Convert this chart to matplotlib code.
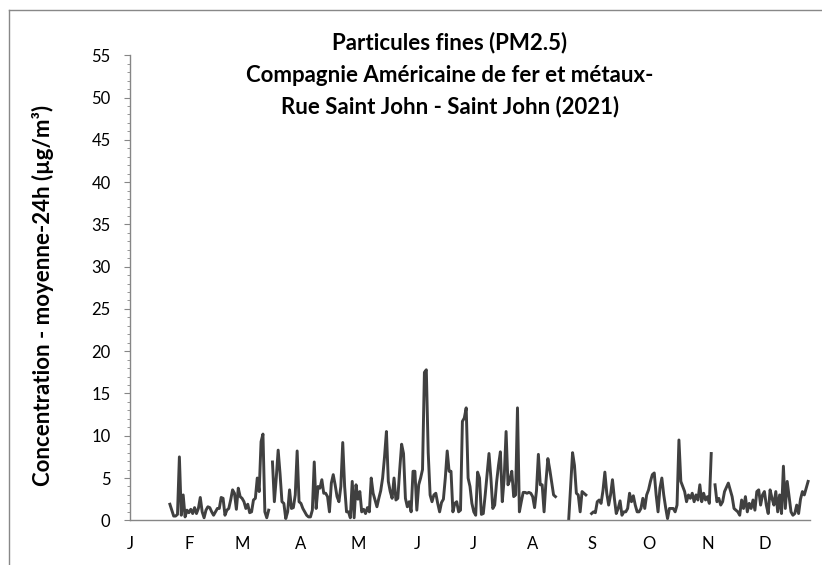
import numpy as np
import pandas as pd
import matplotlib
matplotlib.use("Agg")
import matplotlib.pyplot as plt
from matplotlib.lines import Line2D
from matplotlib.ticker import MultipleLocator

# ----------------------------
# Daily PM2.5 (24h mean), 2021 - nan = no data
# ----------------------------
nan = np.nan
start_date = "2021-01-22"

jan = [1.9, 1.2, 0.5, 0.5, 0.7, 7.5, 0.6, 3.0, 0.4, 1.2]
feb = [0.9, 1.3, 0.8, 1.5, 0.8, 1.4, 2.7, 1.0, 0.3, 1.2, 1.6, 1.5, 1.0, 0.6,
       1.0, 1.4, 1.4, 2.7, 2.6, 0.6, 1.2, 1.4, 2.4, 3.6, 3.2, 1.3, 3.8, 2.8]
mar = [2.6, 2.2, 1.4, 1.9, 0.9, 1.0, 2.4, 2.6, 5.0, 3.4, 9.3, 10.2, 1.0, 0.3,
       1.2, nan, 6.9, 2.2, 5.0, 8.3, 5.5, 2.2, 2.0, 0.2, 1.0, 3.6, 1.4, 1.5,
       3.0, 8.2, 2.2]
apr = [2.0, 1.4, 1.0, 0.6, 0.4, 0.4, 1.2, 6.9, 1.4, 4.0, 3.8, 4.8, 3.2, 3.2,
       2.8, 1.0, 4.4, 5.4, 4.2, 2.8, 2.2, 4.0, 9.2, 4.0, 1.0, 1.0, 0.3, 4.6,
       0.3, 4.2]
may = [2.5, 3.4, 1.0, 1.3, 0.8, 1.5, 1.0, 5.0, 3.2, 2.4, 1.6, 2.6, 3.5, 5.0,
       7.5, 10.5, 4.6, 3.4, 2.6, 5.0, 2.4, 2.6, 6.0, 9.0, 7.9, 2.6, 1.6, 2.2,
       1.0, 5.8, 5.8]
jun = [1.2, 4.2, 5.0, 6.0, 17.5, 17.8, 8.0, 3.0, 2.2, 3.0, 3.2, 2.0, 1.0, 2.1,
       2.5, 5.0, 8.2, 5.8, 5.8, 1.0, 2.0, 2.2, 1.0, 1.2, 11.7, 12.1, 13.3, 5.0,
       4.0, 2.0]
jul = [1.0, 0.6, 5.7, 5.0, 0.7, 0.8, 3.0, 5.5, 7.9, 5.0, 1.4, 1.8, 4.5, 6.5,
       8.1, 2.2, 5.0, 10.5, 4.2, 4.8, 5.8, 2.8, 3.0, 13.3, 1.0, 2.2, 3.3, 3.3,
       3.2, 3.3, 3.2]
aug = [2.8, 1.5, 3.5, 7.8, 4.2, 4.2, 1.0, 4.6, 7.3, 6.0, 4.5, 3.0, 2.8, nan,
       nan, nan, nan, nan, nan, 0.2, 4.0, 8.0, 6.5, 3.2, 3.0, 1.0, 3.4, 3.2,
       3.0, nan, nan]
sep = [0.8, 1.0, 0.9, 2.2, 2.4, 2.0, 3.5, 5.7, 3.2, 1.8, 3.0, 4.8, 2.6, 0.8,
       1.4, 2.3, 0.6, 1.0, 1.0, 1.4, 3.2, 2.2, 2.9, 1.8, 1.0, 1.0, 1.4, 2.6,
       1.4, 3.0]
oct_ = [3.6, 4.6, 5.4, 5.6, 3.0, 1.0, 3.8, 5.0, 3.0, 1.5, 0.2, 1.4, 1.4, 1.4,
        1.0, 1.8, 9.5, 4.6, 4.0, 3.4, 2.2, 3.0, 2.6, 3.2, 2.2, 3.0, 2.4, 4.2,
        2.2, 3.2, 2.4]
nov = [2.8, 2.0, 7.9, nan, 4.2, 2.2, 2.6, 1.8, 2.2, 3.4, 3.9, 4.4, 3.6, 2.8,
       1.4, 1.2, 1.0, 0.6, 2.4, 1.4, 2.8, 1.0, 2.0, 1.4, 2.4, 1.2, 3.4, 3.6,
       1.8, 3.0]
dec = [3.4, 1.8, 0.8, 3.6, 2.6, 1.8, 3.4, 1.0, 3.0, 0.8, 6.4, 1.4, 4.6, 2.8,
       1.0, 0.6, 0.8, 1.8, 0.8, 2.5, 3.4, 3.0, 3.8, 4.6]

month_letters = ["J", "F", "M", "A", "M", "J", "J", "A", "S", "O", "N", "D"]

title_lines = ["Particules fines (PM2.5)",
               "Compagnie Américaine de fer et métaux-",
               "Rue Saint John - Saint John (2021)"]
y_label = "Concentration - moyenne-24h (µg/m³)"

# ----------------------------
# Build series
# ----------------------------
values = jan + feb + mar + apr + may + jun + jul + aug + sep + oct_ + nov + dec
dates = pd.date_range(start_date, periods=len(values), freq="D")
month_starts = pd.date_range("2021-01-01", periods=12, freq="MS")

plt.rcParams["font.family"] = ["Lato", "DejaVu Sans"]

W, H = 822, 565
fig = plt.figure(figsize=(W / 100, H / 100), dpi=100)
ax = fig.add_axes([130 / W, (H - 520.3) / H, 680 / W, 465 / H])

ax.plot(dates, values, color="#404040", lw=2.1, solid_joinstyle="round")

ax.set_xlim(pd.Timestamp("2021-01-01"), pd.Timestamp("2021-12-25"))
ax.set_ylim(0, 55)
ax.yaxis.set_major_locator(MultipleLocator(5))
ax.yaxis.set_minor_locator(MultipleLocator(1))
ax.set_xticks(month_starts)
ax.set_xticklabels(month_letters)
ax.xaxis.set_minor_locator(plt.NullLocator())

for side in ["top", "right"]:
    ax.spines[side].set_visible(False)
for side in ["left", "bottom"]:
    ax.spines[side].set_color("#868686")
    ax.spines[side].set_linewidth(1.0)

ax.tick_params(axis="x", length=0, pad=11, labelsize=12, colors="#000000")
ax.tick_params(axis="y", which="major", length=4, color="#868686",
               pad=10, labelsize=12)
ax.tick_params(axis="y", which="minor", length=2.5, color="#868686")

# title, 3 lines
for i, line in enumerate(title_lines):
    fig.text(450 / W, 1 - (43 + 32 * i) / H, line, ha="center", va="center",
             fontsize=16, fontweight="bold", color="#000000")

fig.text(43 / W, 1 - 295 / H, y_label, rotation=90, ha="center",
         va="center", fontsize=16, fontweight="bold")

# chart area border
fig.add_artist(Line2D([9 / W, 1], [1 - 10 / H, 1 - 10 / H],
                      transform=fig.transFigure, color="#888888", lw=1))
fig.add_artist(Line2D([9 / W, 9 / W], [1 - 10 / H, 0],
                      transform=fig.transFigure, color="#888888", lw=1))

fig.savefig("out.png", dpi=100)
